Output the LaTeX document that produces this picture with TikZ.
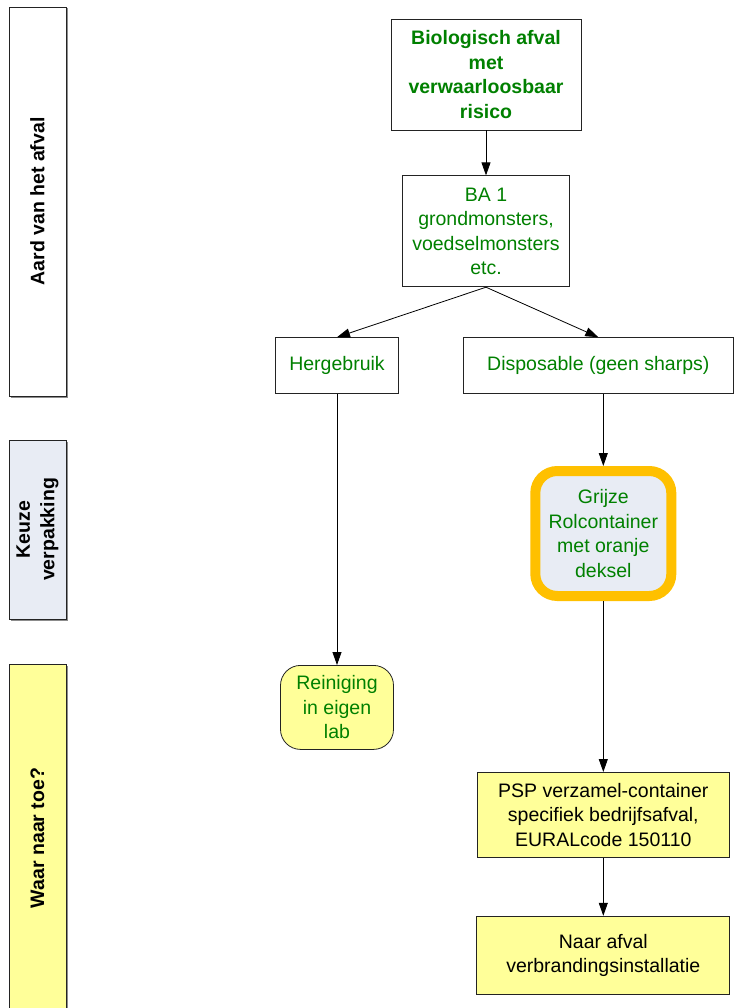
\documentclass[tikz,border=0pt]{standalone}
\usepackage{fontspec}
\setmainfont{Liberation Sans}
\usetikzlibrary{arrows.meta,positioning,shadows}

\definecolor{txtgreen}{RGB}{0,128,0}
\definecolor{paleyellow}{RGB}{255,255,153}
\definecolor{laneblue}{RGB}{232,236,244}
\definecolor{boxorange}{RGB}{255,192,0}
\definecolor{boxline}{RGB}{35,35,35}

\begin{document}
\begin{tikzpicture}[x=1pt,y=1pt,->,>={Triangle[width=9pt,length=13pt]},
                    line width=0.8pt,font=\fontsize{19.5}{24.5}\selectfont,
                    box/.style={draw=boxline,align=center,text=txtgreen,inner sep=2pt},
                    lane/.style={draw=boxline,rotate=90,align=center,inner sep=2pt,
                                 font=\fontsize{19.5}{24.5}\selectfont\bfseries,
                                 drop shadow={shadow xshift=1.5pt,shadow yshift=-1.5pt,
                                              fill=black!45,opacity=1}}]

  \useasboundingbox (0,0) rectangle (734,-1008);

  % lanes
  \node[lane,fill=white,minimum width=389pt,minimum height=57pt]      (laneA) at (37.5,-201.5) {Aard van het afval};
  \node[lane,fill=laneblue,minimum width=179pt,minimum height=57pt]   (laneB) at (37.5,-529.5) {Keuze\\verpakking};
  \node[lane,fill=paleyellow,minimum width=348pt,minimum height=57pt] (laneC) at (37.5,-838)   {Waar naar toe?};

  % flow
  \node[box,font=\fontsize{19.5}{24.5}\selectfont\bfseries,
        minimum width=190pt,minimum height=111pt] (bio) at (486,-74.5)   {Biologisch afval\\met\\verwaarloosbaar\\risico};
  \node[box,minimum width=167pt,minimum height=111pt] (ba1)  [below=45pt of bio]              {BA 1\\grondmonsters,\\voedselmonsters\\etc.};
  \node[box,minimum width=123pt,minimum height=56pt]  (herg) [below=50pt of ba1,xshift=-149pt] {Hergebruik};
  \node[box,minimum width=270pt,minimum height=56pt]  (disp) [right=64pt of herg]             {Disposable (geen sharps)};
  \node[box,draw=boxorange,line width=10pt,fill=laneblue,rounded corners=22pt,
        minimum width=136pt,minimum height=125pt]     (grijs) [below=72pt of disp,xshift=5pt] {Grijze\\Rolcontainer\\met oranje\\deksel};
  \node[box,fill=paleyellow,rounded corners=20pt,
        minimum width=113pt,minimum height=84pt]      (rein) [below=271pt of herg]            {Reiniging\\in eigen\\lab};
  \node[box,text=black,fill=paleyellow,minimum width=252pt,minimum height=85pt] (psp)  [below=171pt of grijs] {PSP verzamel-container\\specifiek bedrijfsafval,\\EURALcode 150110};
  \node[box,text=black,fill=paleyellow,minimum width=253pt,minimum height=78pt] (naar) [below=58pt of psp]    {Naar afval\\verbrandingsinstallatie};

  \path (bio)  edge (ba1)
        (ba1.south) edge (herg.north)
        (ba1.south) edge (disp.north)
        (herg) edge (rein)
        (grijs |- disp.south) edge (grijs)
        (grijs) edge (psp)
        (psp)  edge (naar);
\end{tikzpicture}
\end{document}
